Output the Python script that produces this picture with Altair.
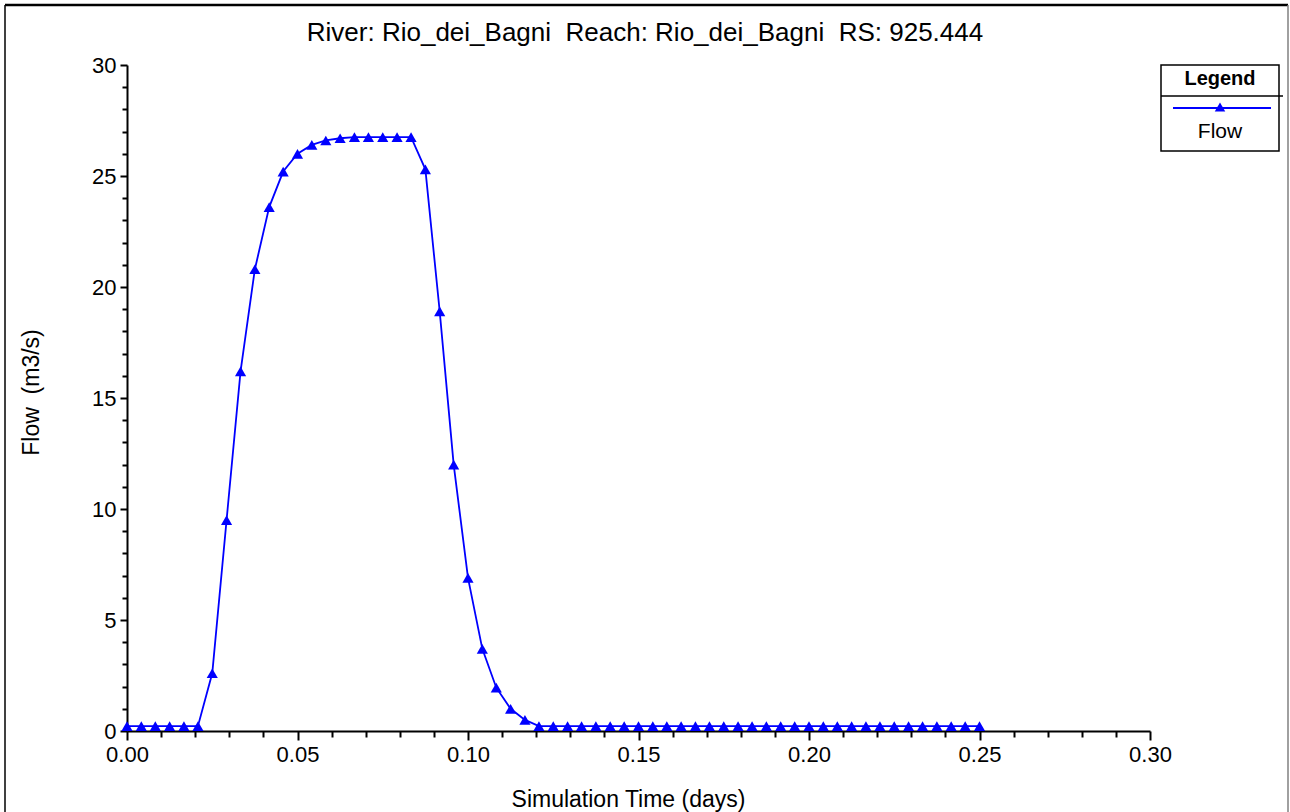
import altair as alt
import pandas as pd

# ---- data ----
time_days = [
    0.0000, 0.0042, 0.0083, 0.0125, 0.0167, 0.0208, 0.0250, 0.0292, 0.0333, 0.0375,
    0.0417, 0.0458, 0.0500, 0.0542, 0.0583, 0.0625, 0.0667, 0.0708, 0.0750, 0.0792,
    0.0833, 0.0875, 0.0917, 0.0958, 0.1000, 0.1042, 0.1083, 0.1125, 0.1167, 0.1208,
    0.1250, 0.1292, 0.1333, 0.1375, 0.1417, 0.1458, 0.1500, 0.1542, 0.1583, 0.1625,
    0.1667, 0.1708, 0.1750, 0.1792, 0.1833, 0.1875, 0.1917, 0.1958, 0.2000, 0.2042,
    0.2083, 0.2125, 0.2167, 0.2208, 0.2250, 0.2292, 0.2333, 0.2375, 0.2417, 0.2458,
    0.2500,
]
flow_m3s = [
    0.22, 0.22, 0.22, 0.22, 0.22, 0.22, 2.6, 9.5, 16.2, 20.8,
    23.6, 25.2, 26.0, 26.4, 26.6, 26.7, 26.75, 26.75, 26.75, 26.75,
    26.75, 25.3, 18.9, 12.0, 6.9, 3.7, 1.95, 1.0, 0.5, 0.22,
    0.22, 0.22, 0.22, 0.22, 0.22, 0.22, 0.22, 0.22, 0.22, 0.22,
    0.22, 0.22, 0.22, 0.22, 0.22, 0.22, 0.22, 0.22, 0.22, 0.22,
    0.22, 0.22, 0.22, 0.22, 0.22, 0.22, 0.22, 0.22, 0.22, 0.22,
    0.22,
]
x_tick_values = [
    0.00, 0.01, 0.02, 0.03, 0.04, 0.05, 0.06, 0.07, 0.08, 0.09,
    0.10, 0.11, 0.12, 0.13, 0.14, 0.15, 0.16, 0.17, 0.18, 0.19,
    0.20, 0.21, 0.22, 0.23, 0.24, 0.25, 0.26, 0.27, 0.28, 0.29, 0.30,
]
y_tick_values = [
    0, 1, 2, 3, 4, 5, 6, 7, 8, 9, 10, 11, 12, 13, 14, 15,
    16, 17, 18, 19, 20, 21, 22, 23, 24, 25, 26, 27, 28, 29, 30,
]
NB = "\u00a0"
title_text = f"River: Rio_dei_Bagni{NB} Reach: Rio_dei_Bagni{NB} RS: 925.444"
x_title = "Simulation Time (days)"
y_title = f"Flow{NB} (m3/s)"
series_name = "Flow"

FONT = "Liberation Sans"
BLUE = "#0000FF"
W, H = 1023, 666

df = pd.DataFrame({"t": time_days, "flow": flow_m3s})
one = pd.DataFrame({"k": [0]})

x_enc = alt.X(
    "t:Q",
    scale=alt.Scale(domain=[0, 0.3], nice=False, zero=False),
    axis=alt.Axis(
        values=x_tick_values, tickCount=100,
        labelExpr="round(datum.value*100) % 5 === 0 ? format(datum.value, '.2f') : ''",
        tickSize={"condition": {"test": "round(datum.value*100) % 5 === 0", "value": 9}, "value": 6},
        tickWidth=2, tickColor="black",
        domainColor="black", domainWidth=2,
        labelFont=FONT, labelFontSize=22, labelColor="black",
        labelPadding=4, labelOverlap=False, labelFlush=False,
        grid=False,
        title=x_title, titleFont=FONT, titleFontSize=23, titleFontWeight="normal",
        titleColor="black", titleX=501, titleY=75, titleBaseline="alphabetic",
        titleAlign="center", titleAnchor=None,
    ),
)
y_enc = alt.Y(
    "flow:Q",
    scale=alt.Scale(domain=[0, 30], nice=False, zero=True),
    axis=alt.Axis(
        values=y_tick_values, tickCount=100,
        labelExpr="datum.value % 5 === 0 ? datum.value : ''",
        tickSize={"condition": {"test": "datum.value % 5 === 0", "value": 7}, "value": 5},
        tickWidth=2, tickColor="black",
        domainColor="black", domainWidth=2,
        labelFont=FONT, labelFontSize=22, labelColor="black",
        labelPadding=4, labelOverlap=False, labelFlush=False,
        grid=False,
        title=y_title, titleFont=FONT, titleFontSize=23, titleFontWeight="normal",
        titleColor="black", titleX=-89, titleY=327, titleBaseline="alphabetic",
        titleAlign="center", titleAngle=270,
    ),
)

line = alt.Chart(df).mark_line(color=BLUE, strokeWidth=1.8).encode(x=x_enc, y=y_enc)
pts = alt.Chart(df).mark_point(shape="triangle-up", filled=True, color=BLUE, size=125, opacity=1).encode(
    x="t:Q", y="flow:Q"
)

title = alt.Chart(one).mark_text(
    text=title_text, font=FONT, fontSize=26, color="black", align="center", baseline="alphabetic"
).encode(x=alt.value(518), y=alt.value(-24))

# outer frame of the picture
frame_top = alt.Chart(one).mark_rule(color="black", strokeWidth=2.5).encode(
    x=alt.value(-122), x2=alt.value(1161), y=alt.value(-60)
)
frame_left = alt.Chart(one).mark_rule(color="black", strokeWidth=1.5).encode(
    x=alt.value(-122), y=alt.value(-60), y2=alt.value(760)
)
frame_right = alt.Chart(one).mark_rule(color="#808080", strokeWidth=1.5).encode(
    x=alt.value(1161), y=alt.value(-60), y2=alt.value(760)
)

# legend box
leg_box = alt.Chart(one).mark_rect(fill="white", stroke="black", strokeWidth=1.5).encode(
    x=alt.value(1034), x2=alt.value(1152), y=alt.value(0), y2=alt.value(86)
)
leg_sep = alt.Chart(one).mark_rule(color="black", strokeWidth=1.5).encode(
    x=alt.value(1034), x2=alt.value(1156), y=alt.value(31)
)
leg_title = alt.Chart(one).mark_text(
    text="Legend", font=FONT, fontSize=20, fontWeight="bold", color="black",
    align="center", baseline="alphabetic"
).encode(x=alt.value(1093), y=alt.value(20))
leg_line = alt.Chart(one).mark_rule(color=BLUE, strokeWidth=1.8).encode(
    x=alt.value(1046), x2=alt.value(1144), y=alt.value(43)
)
leg_pt = alt.Chart(one).mark_point(shape="triangle-up", filled=True, color=BLUE, size=110, opacity=1).encode(
    x=alt.value(1093), y=alt.value(42)
)
leg_text = alt.Chart(one).mark_text(
    text=series_name, font=FONT, fontSize=21, color="black", align="center", baseline="alphabetic"
).encode(x=alt.value(1093), y=alt.value(73))

chart = alt.layer(
    line, pts, title, frame_top, frame_left, frame_right,
    leg_box, leg_sep, leg_title, leg_line, leg_pt, leg_text,
).properties(
    width=W, height=H,
    autosize=alt.AutoSizeParams(type="none"),
    padding={"left": 127, "top": 65, "right": 140, "bottom": 81},
    background="white",
).configure_view(stroke=None)

chart.save("out.html", embed_options={"renderer": "svg", "actions": False})
